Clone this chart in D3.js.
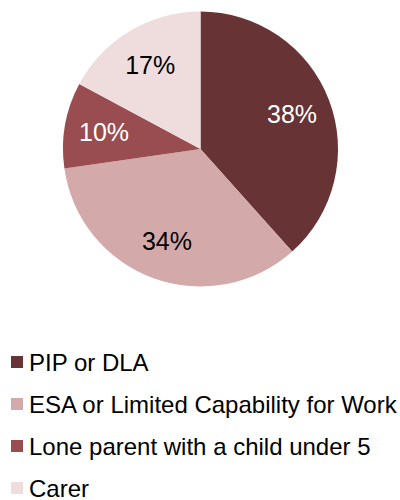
<!DOCTYPE html>
<html>
<head>
<meta charset="utf-8">
<script src="https://cdn.jsdelivr.net/npm/d3@7"></script>
<style>
  body { margin: 0; background: #fff; }
  text { font-family: "Liberation Sans", Arial, sans-serif; }
</style>
</head>
<body>
<script>
var categories = ["PIP or DLA", "ESA or Limited Capability for Work", "Lone parent with a child under 5", "Carer"];
var values = [38, 34, 10, 17];
var colours = ["#673335", "#d4a9aa", "#994d50", "#efddde"];
var labelColours = ["#ffffff", "#000000", "#ffffff", "#000000"];

var width = 400, height = 500;
var cx = 200.5, cy = 149, radius = 137.5;

var svg = d3.select("body").append("svg")
    .attr("width", width)
    .attr("height", height);

var pie = d3.pie().sort(null).value(function(d) { return d; });
var arcs = pie(values);

var arc = d3.arc().innerRadius(0).outerRadius(radius);
var labelArc = d3.arc().innerRadius(98).outerRadius(98);

var g = svg.append("g")
    .attr("transform", "translate(" + cx + "," + cy + ")");

g.selectAll("path")
    .data(arcs)
    .enter().append("path")
      .attr("d", arc)
      .attr("fill", function(d, i) { return colours[i]; });

g.selectAll("text")
    .data(arcs)
    .enter().append("text")
      .attr("transform", function(d) { return "translate(" + labelArc.centroid(d) + ")"; })
      .attr("text-anchor", "middle")
      .attr("dy", "0.36em")
      .attr("font-size", 25)
      .attr("fill", function(d, i) { return labelColours[i]; })
      .text(function(d) { return d.data + "%"; });

var legendY = d3.scaleBand()
    .domain(categories)
    .range([341, 509]);

var legend = svg.append("g").selectAll("g")
    .data(categories)
    .enter().append("g")
      .attr("transform", function(d) { return "translate(0," + (legendY(d) + legendY.bandwidth() / 2) + ")"; });

legend.append("rect")
    .attr("x", 11)
    .attr("y", -6)
    .attr("width", 12)
    .attr("height", 12)
    .attr("fill", function(d, i) { return colours[i]; });

legend.append("text")
    .attr("x", 29)
    .attr("dy", "0.36em")
    .attr("font-size", 24)
    .attr("fill", "#000")
    .text(function(d) { return d; });
</script>
</body>
</html>
